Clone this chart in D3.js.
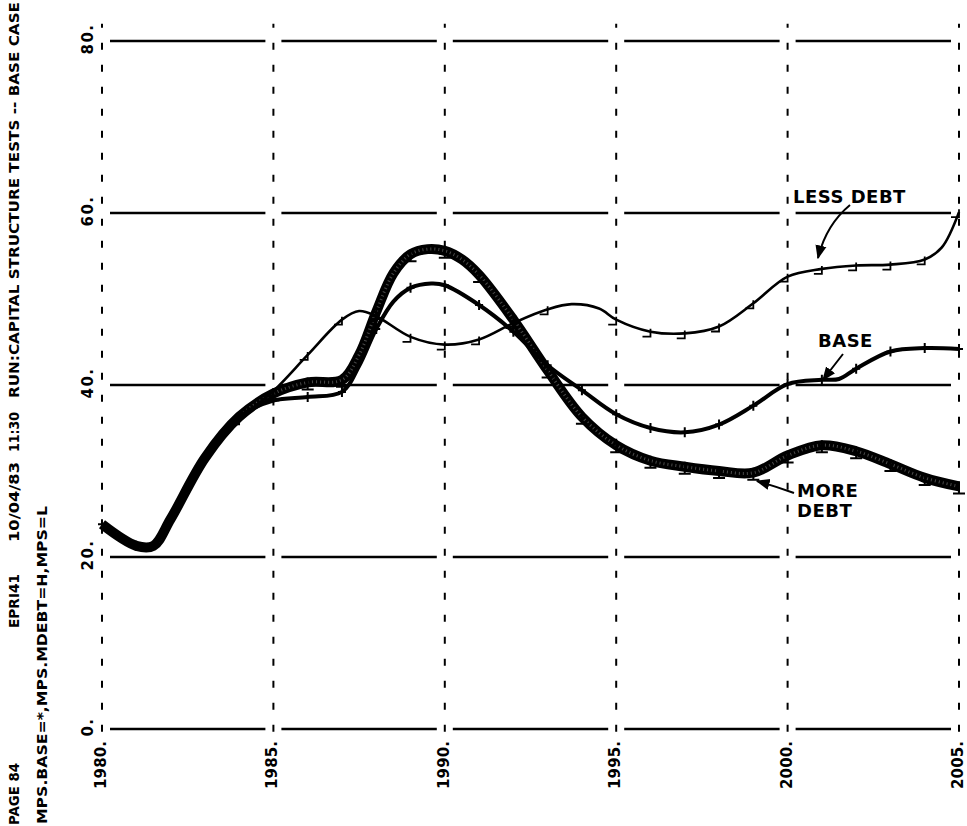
<!DOCTYPE html>
<html>
<head>
<meta charset="utf-8">
<script src="https://cdn.jsdelivr.net/npm/d3@7"></script>
<style>
	body { margin: 0; background: #fff; }
	svg { display: block; }
	text { font-family: "DejaVu Sans", sans-serif; font-weight: bold; fill: #000; }
</style>
</head>
<body>
<script>
// tick values and labels
var xTicks = [1980, 1985, 1990, 1995, 2000, 2005];
var xTickLabels = ["1980.", "1985.", "1990.", "1995.", "2000.", "2005."];
var yTicks = [0, 20, 40, 60, 80];
var yTickLabels = ["0.", "20.", "40.", "60.", "80."];

// series: [year, value]
var baseSeries = [
	[1980, 23.8], [1981, 21.3], [1981.5, 21.3], [1982, 24.4], [1983, 31.5], [1984, 36.3],
	[1985, 38.2], [1986, 38.6], [1987, 39.2], [1987.5, 42.2], [1988, 46.5], [1988.5, 49.7],
	[1989, 51.3], [1989.6, 51.8], [1990, 51.6], [1991, 49.3], [1992, 46.2], [1993, 42.3],
	[1994, 39.4], [1995, 36.6], [1996, 35.0], [1997, 34.5], [1998, 35.4], [1999, 37.6],
	[2000, 40.1], [2001, 40.6], [2001.5, 40.7], [2002, 41.9], [2003, 43.9], [2004, 44.3], [2005, 44.2]
];
var moreDebtSeries = [
	[1980, 23.8], [1981, 21.3], [1981.5, 21.3], [1982, 24.4], [1983, 31.5], [1984, 36.3],
	[1985, 39.0], [1986, 40.3], [1987, 40.6], [1987.5, 43.5], [1988, 48.5], [1988.5, 53.0],
	[1989, 55.2], [1989.5, 55.8], [1990, 55.6], [1990.5, 54.6], [1991, 52.8], [1992, 47.6],
	[1993, 41.7], [1994, 36.3], [1995, 33.0], [1996, 31.2], [1997, 30.5], [1998, 30.0],
	[1999, 29.8], [2000, 31.8], [2001, 33.0], [2002, 32.3], [2003, 30.8], [2004, 29.2], [2005, 28.2]
];
var lessDebtSeries = [
	[1980, 23.8], [1981, 21.3], [1981.5, 21.3], [1982, 24.4], [1983, 31.5], [1984, 36.0],
	[1985, 39.3], [1986, 43.5], [1987, 47.6], [1987.5, 48.6], [1988, 48.0], [1989, 45.6],
	[1990, 44.7], [1991, 45.3], [1992, 47.2], [1993, 48.8], [1993.7, 49.4], [1994.5, 48.9],
	[1995, 47.6], [1996, 46.2], [1997, 46.0], [1998, 46.8], [1999, 49.5], [2000, 52.6],
	[2001, 53.5], [2002, 53.9], [2003, 54.0], [2004, 54.6], [2004.5, 56.0], [2005, 60.1]
];

var headerLine1 = [
	{text: "PAGE 84", start: 825, len: 62},
	{text: "EPRI41", start: 628, len: 54},
	{text: "10/04/83", start: 542, len: 80},
	{text: "11:30", start: 452, len: 40},
	{text: "RUN:CAPITAL STRUCTURE TESTS -- BASE CASE", start: 398, len: 396}
];
var headerLine2 = "MPS.BASE=*,MPS.MDEBT=H,MPS=L";

function main(){
	var w = 967;
	var h = 826;

	var svg = d3.select("body")
				.append("svg")
				.attr("width", w)
				.attr("height", h);

	var xScale = d3.scaleLinear()
					.domain([1980, 2005])
					.range([102, 959]);

	var yScale = d3.scaleLinear()
					.domain([0, 80])
					.range([729, 41]);

	// horizontal grid: solid runs broken at each vertical line
	yTicks.forEach(function(v){
		for (var i = 0; i < xTicks.length - 1; i++) {
			svg.append("line")
				.attr("x1", xScale(xTicks[i]) + 8)
				.attr("x2", xScale(xTicks[i + 1]) - 8)
				.attr("y1", yScale(v))
				.attr("y2", yScale(v))
				.attr("stroke", "black")
				.attr("stroke-width", 2.6);
		}
	});

	// vertical dashed grid
	svg.selectAll(".vgrid")
		.data(xTicks)
		.enter()
		.append("line")
		.attr("class", "vgrid")
		.attr("x1", d => xScale(d))
		.attr("x2", d => xScale(d))
		.attr("y1", yScale(82))
		.attr("y2", yScale(-1))
		.attr("stroke", "black")
		.attr("stroke-width", 2)
		.attr("stroke-dasharray", "7,15")
		.attr("stroke-dashoffset", 3);

	// tick labels, rotated like the plotter output
	svg.selectAll(".xlab")
		.data(xTicks)
		.enter()
		.append("text")
		.attr("class", "xlab")
		.attr("transform", d => "translate(" + (xScale(d) + 4) + "," + (yScale(0) + 12) + ") rotate(-90)")
		.attr("text-anchor", "end")
		.attr("font-size", 15)
		.attr("textLength", 48)
		.attr("lengthAdjust", "spacing")
		.text((d, i) => xTickLabels[i]);

	svg.selectAll(".ylab")
		.data(yTicks)
		.enter()
		.append("text")
		.attr("class", "ylab")
		.attr("transform", d => "translate(93," + (yScale(d) - 2) + ") rotate(-90)")
		.attr("text-anchor", "middle")
		.attr("font-size", 15)
		.attr("letter-spacing", 1.5)
		.text((d, i) => yTickLabels[i]);

	// header text along the left edge
	headerLine1.forEach(function(t){
		svg.append("text")
			.attr("transform", "translate(19," + t.start + ") rotate(-90)")
			.attr("font-size", 14.5)
			.attr("textLength", t.len)
			.attr("lengthAdjust", "spacingAndGlyphs")
			.text(t.text);
	});
	svg.append("text")
		.attr("transform", "translate(47,824) rotate(-90)")
		.attr("font-size", 14.5)
		.attr("textLength", 318)
		.attr("lengthAdjust", "spacingAndGlyphs")
		.text(headerLine2);

	var line = d3.line()
				.x(d => xScale(d[0]))
				.y(d => yScale(d[1]))
				.curve(d3.curveCatmullRom.alpha(0.5));

	// MORE DEBT: heavy band
	svg.append("path")
		.attr("d", line(moreDebtSeries))
		.attr("fill", "none")
		.attr("stroke", "black")
		.attr("stroke-width", 10)
		.attr("stroke-linejoin", "round");
	svg.append("path")
		.attr("d", line(moreDebtSeries))
		.attr("fill", "none")
		.attr("stroke", "#6a6a6a")
		.attr("stroke-width", 3)
		.attr("stroke-dasharray", "1,3")
		.attr("opacity", 0.7);

	// BASE
	svg.append("path")
		.attr("d", line(baseSeries))
		.attr("fill", "none")
		.attr("stroke", "black")
		.attr("stroke-width", 4)
		.attr("stroke-linejoin", "round");

	// LESS DEBT
	svg.append("path")
		.attr("d", line(lessDebtSeries))
		.attr("fill", "none")
		.attr("stroke", "black")
		.attr("stroke-width", 2.6)
		.attr("stroke-linejoin", "round");

	// plot symbols at whole years
	var whole = d => d[0] % 1 === 0;

	svg.selectAll(".mkH")
		.data(moreDebtSeries.filter(whole).filter(d => d[0] >= 1985))
		.enter()
		.append("path")
		.attr("class", "mkH")
		.attr("transform", d => "translate(" + xScale(d[0]) + "," + yScale(d[1]) + ")")
		.attr("d", "M-6,7H6M0,-5V7")
		.attr("fill", "none")
		.attr("stroke", "black")
		.attr("stroke-width", 2);

	svg.selectAll(".mkB")
		.data(baseSeries.filter(whole))
		.enter()
		.append("path")
		.attr("class", "mkB")
		.attr("transform", d => "translate(" + xScale(d[0]) + "," + yScale(d[1]) + ")")
		.attr("d", "M-4,0H4M0,-5V5")
		.attr("fill", "none")
		.attr("stroke", "black")
		.attr("stroke-width", 2);

	svg.selectAll(".mkL")
		.data(lessDebtSeries.filter(whole).filter(d => d[0] >= 1984))
		.enter()
		.append("path")
		.attr("class", "mkL")
		.attr("transform", d => "translate(" + xScale(d[0]) + "," + yScale(d[1]) + ")")
		.attr("d", "M-8,5H0V-3")
		.attr("fill", "none")
		.attr("stroke", "black")
		.attr("stroke-width", 1.8);

	// labels with arrows
	svg.append("defs")
		.append("marker")
		.attr("id", "head")
		.attr("viewBox", "0 0 10 10")
		.attr("refX", 9)
		.attr("refY", 5)
		.attr("markerWidth", 7)
		.attr("markerHeight", 7)
		.attr("orient", "auto")
		.append("path")
		.attr("d", "M0,1L10,5L0,9Z")
		.attr("fill", "black");

	var notes = [
		{lines: ["LESS DEBT"], x: 793, y: 203, arrow: "M850,205Q826,225 818,258"},
		{lines: ["BASE"], x: 818, y: 347, arrow: "M843,354Q832,368 823,380"},
		{lines: ["MORE", "DEBT"], x: 797, y: 497, arrow: "M794,493Q775,486 757,481"}
	];
	notes.forEach(function(n){
		n.lines.forEach(function(s, i){
			svg.append("text")
				.attr("x", n.x)
				.attr("y", n.y + i * 20)
				.attr("font-size", 18)
				.attr("letter-spacing", 0.5)
				.text(s);
		});
		svg.append("path")
			.attr("d", n.arrow)
			.attr("fill", "none")
			.attr("stroke", "black")
			.attr("stroke-width", 2)
			.attr("marker-end", "url(#head)");
	});
}

main();
</script>
</body>
</html>
